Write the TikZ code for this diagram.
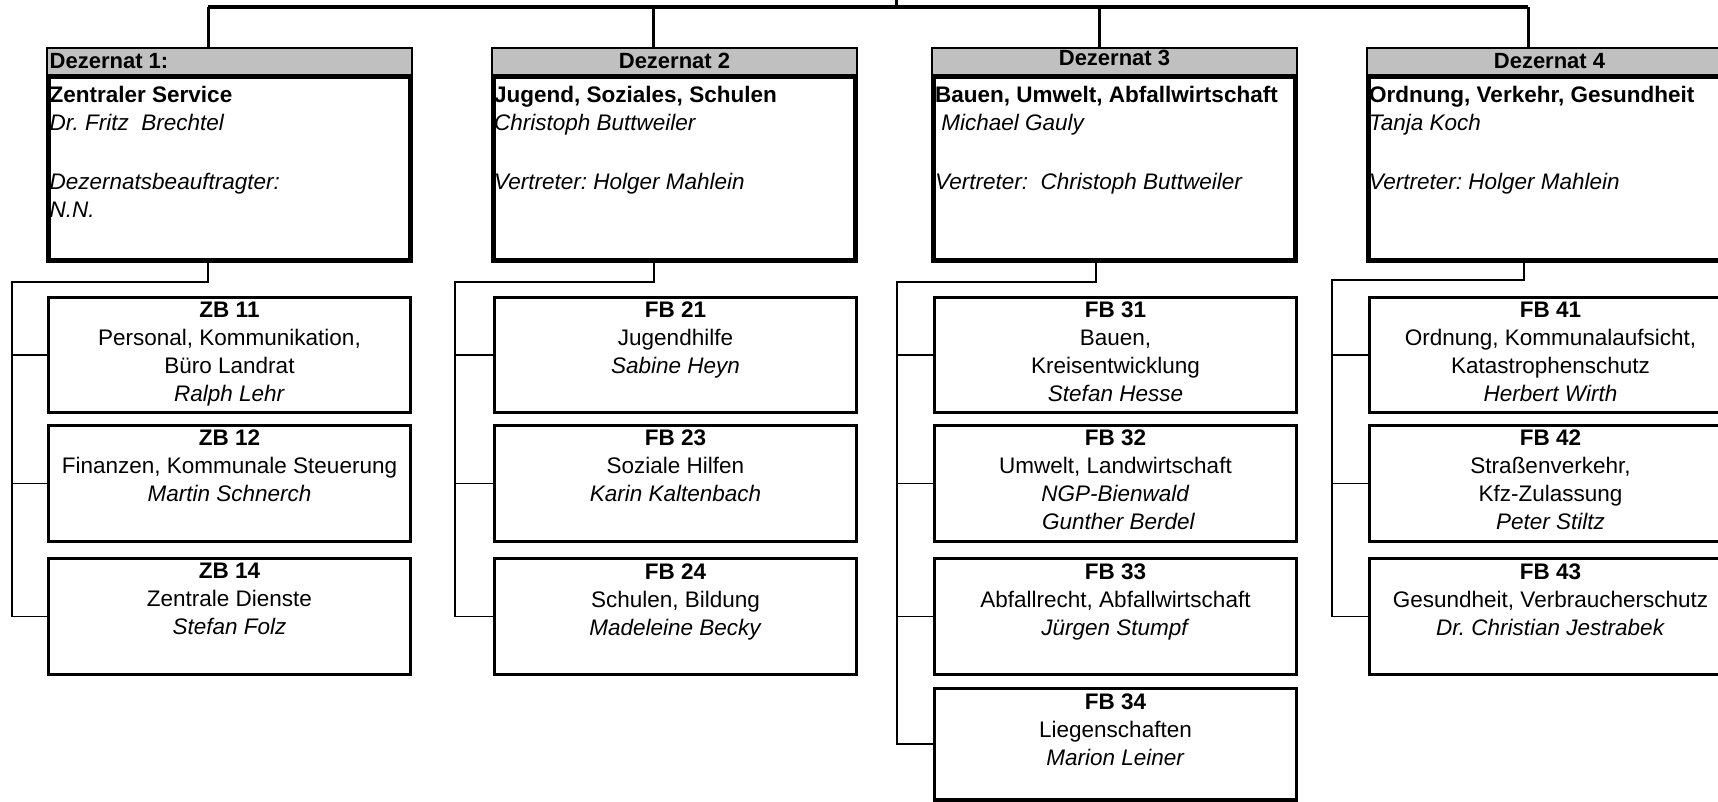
\documentclass[tikz,border=0pt]{standalone}
\usepackage{fontspec}
\setmainfont{Liberation Sans}
\usetikzlibrary{calc}
\definecolor{hdrgrey}{RGB}{192,192,192}
\frenchspacing
\begin{document}
\begin{tikzpicture}[x=1pt,y=-1pt,
  dez/.style={draw, line width=5pt, rectangle, minimum width=362pt, minimum height=211pt, inner sep=0pt},
  subbox/.style={draw, line width=3.8pt, rectangle, minimum width=362pt, inner sep=0pt},
  dtext/.style={anchor=north west, align=left, inner sep=0pt, font=\fontsize{22.5}{28.5}\selectfont},
  stext/.style={anchor=north, align=center, inner sep=0pt, font=\fontsize{22.5}{28}\selectfont},
  htext/.style={inner sep=0pt, font=\bfseries\fontsize{22}{28}\selectfont},
  conn/.style={line width=1.6pt},
  topline/.style={line width=3.5pt},
  drop/.style={line width=3pt},
  hdrfill/.style={fill=hdrgrey},
  sepline/.style={line width=5pt}
]
\useasboundingbox (0,0) rectangle (1718,802);
\clip (0,0) rectangle (1718,802);

% ---- Dezernat boxes
\node[dez] (d1) at (229,155.5) {};
\node[dez] (d2) at (674.5,155.5) {};
\node[dez] (d3) at (1114.5,155.5) {};
\node[dez] (d4) at (1549.5,155.5) {};

\foreach \d in {d1,d2,d3,d4}{
  \fill[hdrfill] ($(\d.north west)+(2,2)$) rectangle ($(\d.north east)+(-2,29)$);
  \draw[sepline] ($(\d.north west)+(0,29)$) -- ($(\d.north east)+(0,29)$);
}

\node[htext, anchor=base west] (h1) at ($(d1.north west)+(4,21)$) {Dezernat 1:};
\node[htext, anchor=base] (h2) at ($(d2.north)+(0,21)$) {Dezernat 2};
\node[htext, anchor=base] (h3) at ($(d3.north)+(0,18.5)$) {Dezernat 3};
\node[htext, anchor=base] (h4) at ($(d4.north)+(0,21)$) {Dezernat 4};

\node[dtext] (dt1) at ($(d1.north west)+(4,38)$) {\textbf{Zentraler Service}\\\textit{Dr. Fritz\ \ Brechtel}\\[30pt]\textit{Dezernatsbeauftragter:}\\\textit{N.N.}};
\node[dtext] (dt2) at ($(d2.north west)+(3,38)$) {\textbf{Jugend, Soziales, Schulen}\\\textit{Christoph Buttweiler}\\[30pt]\textit{Vertreter: Holger Mahlein}};
\node[dtext] (dt3) at ($(d3.north west)+(4,38)$) {\textbf{Bauen, Umwelt, Abfallwirtschaft}\\\textit{\ Michael Gauly}\\[30pt]\textit{Vertreter:\ \ Christoph Buttweiler}};
\node[dtext] (dt4) at ($(d4.north west)+(3,38)$) {\textbf{Ordnung, Verkehr, Gesundheit}\\\textit{Tanja Koch}\\[30pt]\textit{Vertreter: Holger Mahlein}};

% ---- sub boxes
\node[subbox, minimum height=115pt] (zb11) at (229.5,355) {};
\node[subbox, minimum height=116pt] (zb12) at (229.5,483.5) {};
\node[subbox, minimum height=116pt] (zb14) at (229.5,616.5) {};

\node[subbox, minimum height=115pt] (fb21) at (675.5,355) {};
\node[subbox, minimum height=116pt] (fb23) at (675.5,483.5) {};
\node[subbox, minimum height=116pt] (fb24) at (675.5,616.5) {};

\node[subbox, minimum height=115pt] (fb31) at (1115.5,355) {};
\node[subbox, minimum height=116pt] (fb32) at (1115.5,483.5) {};
\node[subbox, minimum height=116pt] (fb33) at (1115.5,616.5) {};
\node[subbox, minimum height=111.5pt] (fb34) at (1115.5,744.25) {};

\node[subbox, minimum height=115pt] (fb41) at (1550.5,355) {};
\node[subbox, minimum height=116pt] (fb42) at (1550.5,483.5) {};
\node[subbox, minimum height=116pt] (fb43) at (1550.5,616.5) {};

\node[stext] (tzb11) at ($(zb11.north)+(0,6)$) {\textbf{ZB 11}\\Personal, Kommunikation,\\Büro Landrat\\\textit{Ralph Lehr}};
\node[stext] (tzb12) at ($(zb12.north)+(0,6)$) {\textbf{ZB 12}\\Finanzen, Kommunale Steuerung\\\textit{Martin Schnerch}};
\node[stext] (tzb14) at ($(zb14.north)+(0,6.5)$) {\textbf{ZB 14}\\Zentrale Dienste\\\textit{Stefan Folz}};

\node[stext] (tfb21) at ($(fb21.north)+(0,6)$) {\textbf{FB 21}\\Jugendhilfe\\\textit{Sabine Heyn}};
\node[stext] (tfb23) at ($(fb23.north)+(0,6)$) {\textbf{FB 23}\\Soziale Hilfen\\\textit{Karin Kaltenbach}};
\node[stext] (tfb24) at ($(fb24.north)+(0,6.5)$) {\textbf{FB 24}\\Schulen, Bildung\\\textit{Madeleine Becky}};

\node[stext] (tfb31) at ($(fb31.north)+(0,6)$) {\textbf{FB 31}\\Bauen,\\Kreisentwicklung\\\textit{Stefan Hesse}};
\node[stext] (tfb32) at ($(fb32.north)+(0,6)$) {\textbf{FB 32}\\Umwelt, Landwirtschaft\\\textit{NGP-Bienwald}\\\textit{\ Gunther Berdel}};
\node[stext] (tfb33) at ($(fb33.north)+(0,6.5)$) {\textbf{FB 33}\\Abfallrecht, Abfallwirtschaft\\\textit{Jürgen Stumpf}};
\node[stext] (tfb34) at ($(fb34.north)+(0,6.5)$) {\textbf{FB 34}\\Liegenschaften\\\textit{Marion Leiner}};

\node[stext] (tfb41) at ($(fb41.north)+(0,6)$) {\textbf{FB 41}\\Ordnung, Kommunalaufsicht,\\Katastrophenschutz\\\textit{Herbert Wirth}};
\node[stext] (tfb42) at ($(fb42.north)+(0,6)$) {\textbf{FB 42}\\Straßenverkehr,\\Kfz-Zulassung\\\textit{Peter Stiltz}};
\node[stext] (tfb43) at ($(fb43.north)+(0,6.5)$) {\textbf{FB 43}\\Gesundheit, Verbraucherschutz\\\textit{Dr. Christian Jestrabek}};

% ---- top connectors
\coordinate (tick) at (896,0);
\coordinate (j1) at (208,7);
\coordinate (j2) at (653,7);
\coordinate (j3) at (1099,7);
\coordinate (j4) at (1528,7);
\draw[topline] (j1) -- (j4);
\draw[drop] (tick) -- (tick |- j1);
\draw[drop] (j1) -- (j1 |- d1.north);
\draw[drop] (j2) -- (j2 |- d2.north);
\draw[drop] (j3) -- (j3 |- d3.north);
\draw[drop] (j4) -- (j4 |- d4.north);

% ---- lower connectors
\coordinate (k1) at (208,282);  \coordinate (s1) at (12,282);
\coordinate (k2) at (654,282);  \coordinate (s2) at (455,282);
\coordinate (k3) at (1096,282); \coordinate (s3) at (897,282);
\coordinate (k4) at (1524,280); \coordinate (s4) at (1332,280);

\draw[conn] (k1 |- d1.south) -- (k1) -- (s1) |- (zb14.west);
\draw[conn] (s1 |- zb11.west) -- (zb11.west);
\draw[conn] (s1 |- zb12.west) -- (zb12.west);

\draw[conn] (k2 |- d2.south) -- (k2) -- (s2) |- (fb24.west);
\draw[conn] (s2 |- fb21.west) -- (fb21.west);
\draw[conn] (s2 |- fb23.west) -- (fb23.west);

\draw[conn] (k3 |- d3.south) -- (k3) -- (s3) |- (fb34.west);
\draw[conn] (s3 |- fb31.west) -- (fb31.west);
\draw[conn] (s3 |- fb32.west) -- (fb32.west);
\draw[conn] (s3 |- fb33.west) -- (fb33.west);

\draw[conn] (k4 |- d4.south) -- (k4) -- (s4) |- (fb43.west);
\draw[conn] (s4 |- fb41.west) -- (fb41.west);
\draw[conn] (s4 |- fb42.west) -- (fb42.west);
\end{tikzpicture}
\end{document}
